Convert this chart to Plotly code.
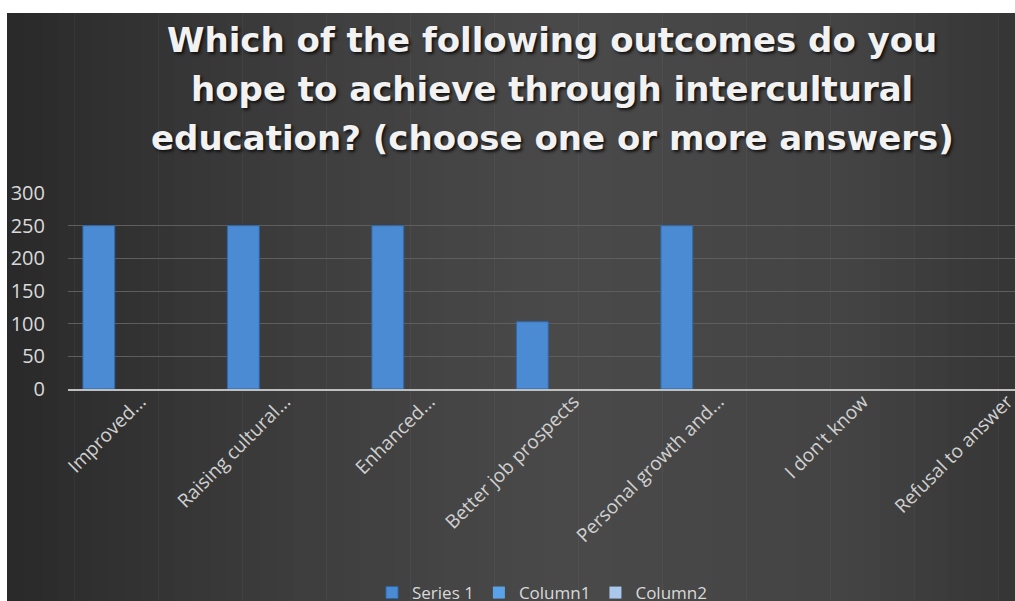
import plotly.graph_objects as go

# data
categories = [
    "Improved...",
    "Raising cultural...",
    "Enhanced...",
    "Better job prospects",
    "Personal growth and...",
    "I don't know",
    "Refusal to answer",
]
series_1 = [250, 250, 250, 103, 250, 0, 0]
column_1 = [None] * 7
column_2 = [None] * 7

title_lines = [
    "Which of the following outcomes do you",
    "hope to achieve through intercultural",
    "education? (choose one or more answers)",
]

W, H = 1015, 601
L, T, B = 68, 193, 212  # plot area margins in px


def px_to_paper(x=None, y=None):
    """convert pixel coords to paper coords of the plot area"""
    pw, ph = W - L, H - T - B
    out = []
    if x is not None:
        out.append((x - L) / pw)
    if y is not None:
        out.append((H - B - y) / ph)
    return out[0] if len(out) == 1 else out


def mix(c1, c2, t):
    return "#%02x%02x%02x" % tuple(int(a + (b - a) * t) for a, b in zip(c1, c2))


# dark background with a soft horizontal gradient (Excel style)
stops = [(7, (42, 42, 42)), (300, (62, 62, 62)), (560, (74, 74, 74)),
         (850, (68, 68, 68)), (1015, (54, 54, 54))]
shapes = []
n_strips = 60
x0 = 7
for i in range(n_strips):
    xa = x0 + (W - x0) * i / n_strips
    xb = x0 + (W - x0) * (i + 1) / n_strips
    xm = (xa + xb) / 2
    for (p1, c1), (p2, c2) in zip(stops[:-1], stops[1:]):
        if p1 <= xm <= p2:
            col = mix(c1, c2, (xm - p1) / (p2 - p1))
            break
    shapes.append(dict(
        type="rect", xref="paper", yref="paper", layer="below",
        x0=px_to_paper(x=xa), x1=px_to_paper(x=min(xb + 0.6, W + 2)),
        y0=px_to_paper(y=H + 2), y1=px_to_paper(y=13),
        fillcolor=col, line=dict(width=0),
    ))

# title lines, Excel spaces them wider than plotly's line height
annotations = []
for i, line in enumerate(title_lines):
    annotations.append(dict(
        text=line, showarrow=False,
        xref="paper", yref="paper",
        x=px_to_paper(x=552), xanchor="center",
        y=px_to_paper(y=40 + 49 * i), yanchor="middle",
        font=dict(family="DejaVu Sans, sans-serif", size=34, color="#f2f2f2",
                  weight="bold", shadow="2px 2px 3px #111111"),
    ))

fig = go.Figure()
fig.add_trace(go.Bar(
    x=categories, y=series_1, name="Series 1",
    marker=dict(color="#4a8bd3",
                line=dict(color="#2f66a6", width=[1, 1, 1, 1, 1, 0, 0])),
))
fig.add_trace(go.Bar(x=categories, y=column_1, name="Column1",
                     marker=dict(color="#5ba3e8", line_width=0)))
fig.add_trace(go.Bar(x=categories, y=column_2, name="Column2",
                     marker=dict(color="#a9c8ec", line_width=0)))

fig.update_layout(
    width=W, height=H,
    margin=dict(l=L, r=0, t=T, b=B, autoexpand=False),
    paper_bgcolor="#ffffff",
    plot_bgcolor="rgba(0,0,0,0)",
    shapes=shapes,
    annotations=annotations,
    barmode="group",
    bargap=0.14,
    bargroupgap=0.23,
    font=dict(family="Open Sans, sans-serif", color="#d9d9d9"),
    legend=dict(
        orientation="h",
        x=px_to_paper(x=542), xanchor="center",
        y=px_to_paper(y=575), yanchor="top",
        font=dict(size=17, color="#d9d9d9"),
        bgcolor="rgba(0,0,0,0)",
        itemwidth=30,
    ),
    showlegend=True,
)

fig.update_xaxes(
    type="category",
    range=[-0.5, -0.5 + (W - L) / 144.5],
    tickangle=-45,
    tickfont=dict(size=19, color="#d0d0d0"),
    showline=True, linecolor="#bfbfbf", linewidth=2,
    showgrid=False,
    ticklabelstandoff=-8,
)
fig.update_yaxes(
    range=[0, 300],
    dtick=50,
    tickfont=dict(size=20, color="#d9d9d9"),
    gridcolor="#5e5e5e", gridwidth=1,
    zeroline=False,
    ticklabelstandoff=22,
)

# drop the default page margin so the figure sits at the window's corner
fig.write_html(
    "out.html",
    config={"displayModeBar": False},
    post_script="document.body.style.margin='0';document.body.style.overflow='hidden';",
)
